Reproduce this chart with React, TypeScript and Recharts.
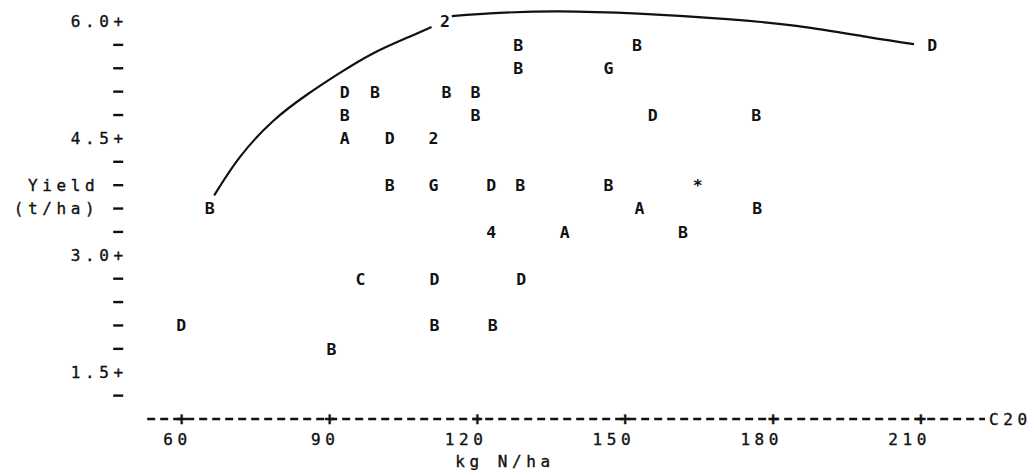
import React from 'react';
import { ComposedChart, XAxis, YAxis, Scatter, Line } from 'recharts';

// plotted symbols (line-printer style)
const N_RATE = [
  113.4, 128.3, 152.4, 212.3, 128.3, 146.6, 93.1, 99.2, 113.7, 119.6, 93.1, 119.6,
  155.6, 176.6, 93.1, 102.2, 111.1, 102.2, 111.1, 122.8, 128.7, 146.6, 164.7, 65.7,
  152.9, 176.8, 122.8, 137.7, 161.7, 96.3, 111.3, 128.9, 59.9, 111.3, 123.1, 90.4,
];
const YIELD = [
  6.0, 5.7, 5.7, 5.7, 5.4, 5.4, 5.1, 5.1, 5.1, 5.1, 4.8, 4.8,
  4.8, 4.8, 4.5, 4.5, 4.5, 3.9, 3.9, 3.9, 3.9, 3.9, 3.9, 3.6,
  3.6, 3.6, 3.3, 3.3, 3.3, 2.7, 2.7, 2.7, 2.1, 2.1, 2.1, 1.8,
];
const SYMBOL = [
  '2', 'B', 'B', 'D', 'B', 'G', 'D', 'B', 'B', 'B', 'B', 'B',
  'D', 'B', 'A', 'D', '2', 'B', 'G', 'D', 'B', 'B', '*', 'B',
  'A', 'B', '4', 'A', 'B', 'C', 'D', 'D', 'D', 'B', 'B', 'B',
];

// hand-drawn response curve, broken where it passes the "2"
const CURVE_LEFT_N = [66.6, 71.8, 78.5, 85.4, 92.1, 98.8, 105.7, 110.7];
const CURVE_LEFT_Y = [3.77, 4.26, 4.72, 5.06, 5.34, 5.59, 5.79, 5.93];
const CURVE_RIGHT_N = [114.8, 124.5, 136.7, 152.7, 170.7, 185.1, 199.3, 208.6];
const CURVE_RIGHT_Y = [6.07, 6.11, 6.13, 6.1, 6.03, 5.94, 5.8, 5.71];

const X_TICKS = [60, 90, 120, 150, 180, 210];
const Y_TICKS = [6.0, 5.7, 5.4, 5.1, 4.8, 4.5, 4.2, 3.9, 3.6, 3.3, 3.0, 2.7, 2.4, 2.1, 1.8, 1.5, 1.2];
const Y_MAJOR = ['6.0', '4.5', '3.0', '1.5'];
const Y_TITLE: Record<string, string> = { '3.9': 'Yield', '3.6': '(t/ha)' };

const INK = '#111';
const MONO = '"DejaVu Sans Mono", "Liberation Mono", monospace';

const points = N_RATE.map((x, i) => ({ x, y: YIELD[i], symbol: SYMBOL[i] }));
const curveLeft = CURVE_LEFT_N.map((x, i) => ({ x, y: CURVE_LEFT_Y[i] }));
const curveRight = CURVE_RIGHT_N.map((x, i) => ({ x, y: CURVE_RIGHT_Y[i] }));

const labelStyle = {
  fontFamily: MONO,
  fontSize: 16,
  letterSpacing: 4.6,
  fill: INK,
  stroke: INK,
  strokeWidth: 0.35,
};

const YTick = (props: any) => {
  const { x, y, payload } = props;
  const key = Number(payload.value).toFixed(1);
  const major = Y_MAJOR.includes(key);
  const title = Y_TITLE[key];
  return (
    <g>
      {major && (
        <text x={x - 19.5} y={y} dy="0.36em" textAnchor="end" style={labelStyle}>
          {key + '+'}
        </text>
      )}
      {title && (
        <text x={x - 48} y={y} dy="0.36em" textAnchor="end" style={labelStyle}>
          {title}
        </text>
      )}
      {!major && <line x1={x - 34} x2={x - 24} y1={y} y2={y} stroke={INK} strokeWidth={2.4} />}
    </g>
  );
};

const XTick = (props: any) => {
  const { x, y, payload } = props;
  return (
    <g>
      <text
        x={x}
        y={y}
        dy="0.36em"
        textAnchor="middle"
        style={{ ...labelStyle, letterSpacing: 0, fontWeight: 'bold', fontSize: 17 }}
      >
        +
      </text>
      <text x={x + 10} y={y + 20} dy="0.36em" textAnchor="end" style={labelStyle}>
        {payload.value}
      </text>
    </g>
  );
};

const AxisCaption = (props: any) => {
  const { viewBox } = props;
  const right = viewBox.x + viewBox.width;
  return (
    <g>
      <text x={right + 4} y={viewBox.y} dy="0.36em" style={labelStyle}>
        C20
      </text>
      <text x={505} y={viewBox.y + 42} dy="0.36em" textAnchor="middle" style={labelStyle}>
        kg N/ha
      </text>
    </g>
  );
};

const Letter = (props: any) => {
  const { cx, cy, payload } = props;
  return (
    <text
      x={cx}
      y={cy}
      dy="0.36em"
      textAnchor="middle"
      style={{ fontFamily: MONO, fontSize: 16.5, fontWeight: 'bold', fill: INK }}
    >
      {payload.symbol}
    </text>
  );
};

export default function App() {
  return (
    <div style={{ position: 'absolute', left: 0, top: 0, width: 1035, height: 472, background: '#fff' }}>
      <ComposedChart width={1035} height={472} margin={{ top: 5.9, right: 50, bottom: 0, left: 0 }}>
        <XAxis
          type="number"
          dataKey="x"
          domain={[53, 223]}
          ticks={X_TICKS}
          allowDataOverflow
          height={53}
          tickSize={0}
          tickMargin={0}
          tickLine={false}
          axisLine={{ stroke: INK, strokeWidth: 2.4, strokeDasharray: '8 5' }}
          tick={<XTick />}
          label={<AxisCaption />}
        />
        <YAxis
          type="number"
          dataKey="y"
          domain={[0.9, 6.2]}
          ticks={Y_TICKS}
          allowDataOverflow
          width={147.2}
          tickSize={0}
          tickMargin={0}
          tickLine={false}
          axisLine={false}
          interval={0}
          tick={<YTick />}
        />
        <Line
          data={curveLeft}
          dataKey="y"
          type="natural"
          stroke={INK}
          strokeWidth={2.2}
          dot={false}
          activeDot={false}
          isAnimationActive={false}
        />
        <Line
          data={curveRight}
          dataKey="y"
          type="natural"
          stroke={INK}
          strokeWidth={2.2}
          dot={false}
          activeDot={false}
          isAnimationActive={false}
        />
        <Scatter data={points} dataKey="y" shape={<Letter />} isAnimationActive={false} />
      </ComposedChart>
    </div>
  );
}
